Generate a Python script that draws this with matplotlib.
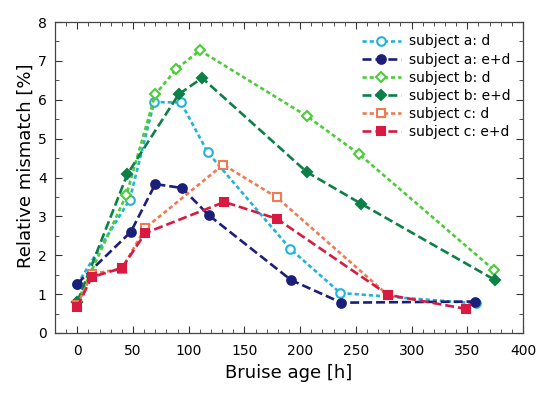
import matplotlib
matplotlib.use("Agg")
import matplotlib.pyplot as plt
from matplotlib.ticker import MultipleLocator

# subject a
a_d_x = [0, 47, 69, 93, 117, 191, 236, 358]
a_d_y = [1.25, 3.43, 5.94, 5.93, 4.65, 2.17, 1.03, 0.76]
a_ed_x = [0, 48, 70, 94, 118, 192, 237, 357]
a_ed_y = [1.27, 2.6, 3.83, 3.73, 3.03, 1.36, 0.78, 0.81]

# subject b
b_d_x = [0, 44, 70, 89, 110, 206, 253, 374]
b_d_y = [0.8, 3.55, 6.14, 6.79, 7.27, 5.58, 4.6, 1.62]
b_ed_x = [0, 45, 91, 112, 206, 255, 375]
b_ed_y = [0.8, 4.09, 6.14, 6.56, 4.14, 3.32, 1.36]

# subject c
c_d_x = [0, 13, 40, 61, 131, 179, 279]
c_d_y = [0.72, 1.52, 1.65, 2.7, 4.33, 3.49, 0.97]
c_ed_x = [0, 13, 40, 61, 132, 179, 279, 349]
c_ed_y = [0.67, 1.44, 1.67, 2.57, 3.37, 2.94, 0.98, 0.62]

DOTTED = (0, (1.6, 1.1))
DASHED = (0, (3.4, 1.5))

series = [
    (a_d_x, a_d_y, "subject a: d", "#22b4d8", "o", False, DOTTED),
    (a_ed_x, a_ed_y, "subject a: e+d", "#1b1f7a", "o", True, DASHED),
    (b_d_x, b_d_y, "subject b: d", "#4ccc38", "D", False, DOTTED),
    (b_ed_x, b_ed_y, "subject b: e+d", "#0c8046", "D", True, DASHED),
    (c_d_x, c_d_y, "subject c: d", "#f07a52", "s", False, DOTTED),
    (c_ed_x, c_ed_y, "subject c: e+d", "#d81a40", "s", True, DASHED),
]

fig = plt.figure(figsize=(5.5, 3.98), dpi=100)
fig.subplots_adjust(left=55 / 550, right=523 / 550, top=1 - 22 / 398, bottom=1 - 333 / 398)
ax = fig.add_subplot(111)

for x, y, label, color, marker, filled, ls in series:
    ms = 5.5 if marker == "D" else 6.2
    ax.plot(x, y, linestyle=ls, color=color, linewidth=1.9, marker=marker,
            markersize=ms, markeredgewidth=1.5, markeredgecolor=color,
            markerfacecolor=color if filled else "white", label=label)

ax.set_xlim(-20, 400)
ax.set_ylim(0, 8)
ax.xaxis.set_major_locator(MultipleLocator(50))
ax.xaxis.set_minor_locator(MultipleLocator(10))
ax.yaxis.set_major_locator(MultipleLocator(1))
ax.yaxis.set_minor_locator(MultipleLocator(0.5))
ax.tick_params(which="both", direction="in", top=True, right=True, labelsize=10, color="#333333")
ax.tick_params(which="major", length=5, width=0.8)
ax.tick_params(which="minor", length=3, width=0.6)
ax.tick_params(axis="x", pad=8)
ax.tick_params(axis="y", pad=6)
for s in ax.spines.values():
    s.set_color("#444444")
    s.set_linewidth(0.9)

ax.set_xlabel("Bruise age [h]", fontsize=13, labelpad=4)
ax.set_ylabel("Relative mismatch [%]", fontsize=13)
ax.yaxis.set_label_coords(-0.044, 0.537)

ax.legend(loc="upper right", frameon=False, fontsize=10, handlelength=2.8,
          labelspacing=0.3, handletextpad=0.6, borderaxespad=0.5)

fig.savefig("out.png", dpi=100)
